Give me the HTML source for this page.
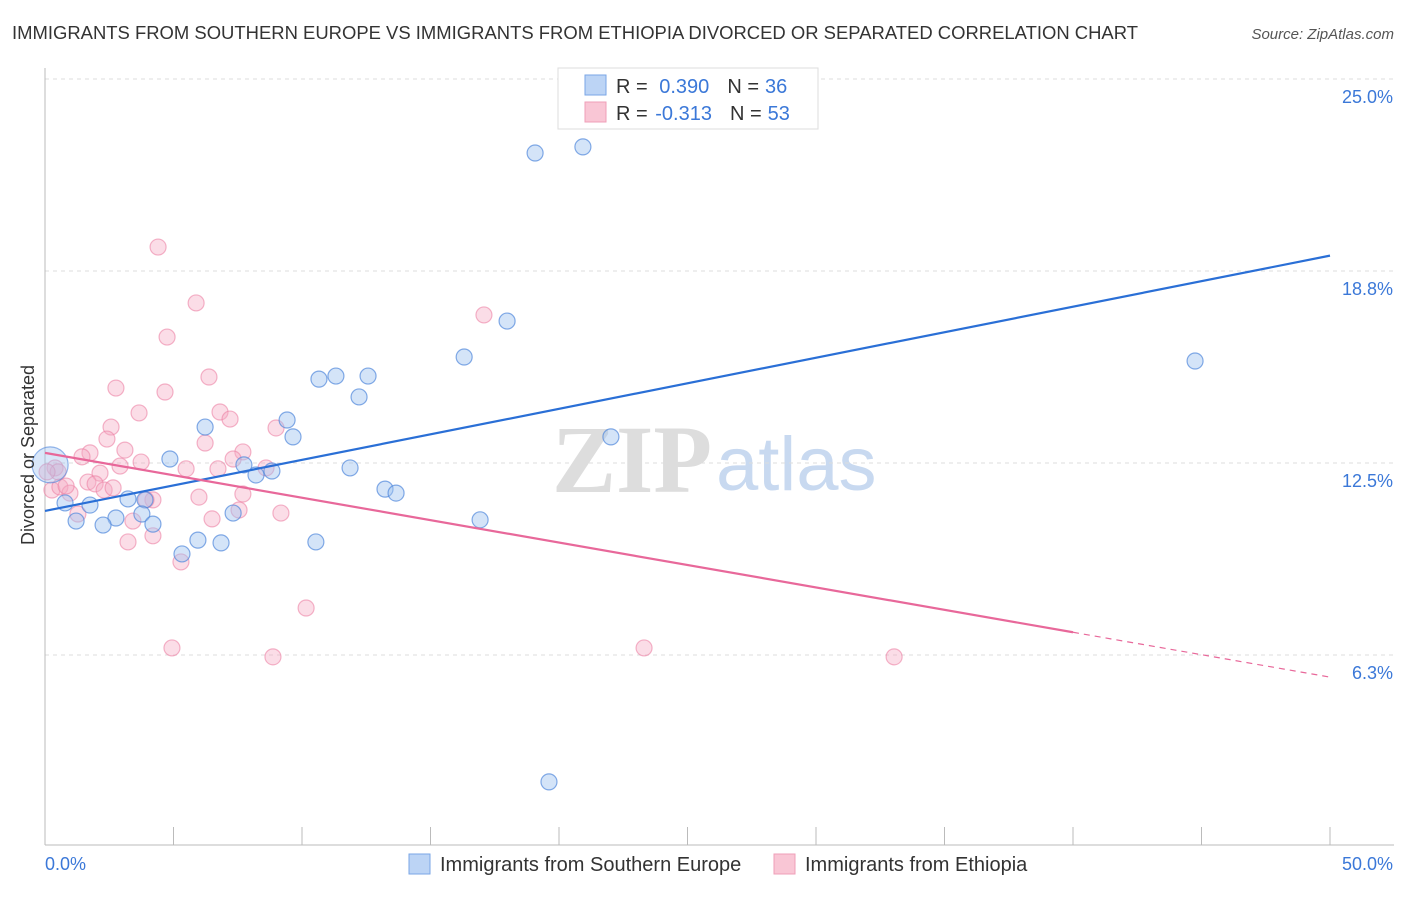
<!DOCTYPE html>
<html><head><meta charset="utf-8"><style>
body{margin:0;background:#fff;width:1406px;height:892px;overflow:hidden;font-family:"Liberation Sans",sans-serif}
</style></head><body>
<svg id="chart" width="1406" height="892" xmlns="http://www.w3.org/2000/svg">
<text x="12" y="39" font-size="18" fill="#333" textLength="1126" lengthAdjust="spacingAndGlyphs">IMMIGRANTS FROM SOUTHERN EUROPE VS IMMIGRANTS FROM ETHIOPIA DIVORCED OR SEPARATED CORRELATION CHART</text>
<text x="1394" y="39" font-size="15" fill="#555" font-style="italic" text-anchor="end">Source: ZipAtlas.com</text>
<g>
<text x="552" y="492" font-size="96" fill="#ddd" font-family="Liberation Serif,serif" font-weight="bold">ZIP</text>
<text x="716" y="490" font-size="76" fill="#c8d9f0">atlas</text>
</g>
<g id="grid"></g>
<g id="axes"></g>
<g id="points"></g>
<g id="trends"></g>
<text transform="translate(34,455) rotate(-90)" font-size="18" fill="#333" text-anchor="middle">Divorced or Separated</text>
<g>
<rect x="558" y="68" width="260" height="61" fill="#fff" stroke="#ddd"/>
<rect x="585" y="75" width="21" height="20" fill="#bcd4f5" stroke="#7aa6e6"/>
<rect x="585" y="102" width="21" height="20" fill="#f9c6d5" stroke="#ef9fb8"/>
<text x="616" y="93" font-size="20" fill="#333">R = <tspan fill="#3b78d8" dx="6">0.390</tspan><tspan dx="18" fill="#333">N =</tspan><tspan fill="#3b78d8" dx="6">36</tspan></text>
<text x="616" y="120" font-size="20" fill="#333">R = <tspan fill="#3b78d8" dx="2">-0.313</tspan><tspan dx="18" fill="#333">N =</tspan><tspan fill="#3b78d8" dx="6">53</tspan></text>
</g>
<g>
<rect x="409" y="854" width="21" height="20" fill="#bcd4f5" stroke="#7aa6e6"/>
<text x="440" y="871" font-size="20" fill="#333">Immigrants from Southern Europe</text>
<rect x="774" y="854" width="21" height="20" fill="#f9c6d5" stroke="#ef9fb8"/>
<text x="805" y="871" font-size="20" fill="#333">Immigrants from Ethiopia</text>
</g>
</svg>
<script>
const yTicks=[25,18.75,12.5,6.25];
const yTickLabels=["25.0%","18.8%","12.5%","6.3%"];
const xTickCount=10;
const blueX=[19.07,20.93,17.98,16.31,44.75,10.66,11.32,12.57,12.22,9.42,9.65,6.23,22.02,4.86,7.74,8.83,8.21,11.87,13.23,13.66,3.23,3.89,1.75,0.78,3.77,2.76,1.21,2.26,4.20,7.32,16.93,5.33,5.95,6.85,10.54,19.61];
const blueY=[22.59,22.79,17.12,15.95,15.82,15.23,15.33,15.33,14.65,13.90,13.35,13.67,13.35,12.63,12.44,12.24,12.11,12.34,11.65,11.52,11.33,11.30,11.13,11.20,10.84,10.71,10.61,10.48,10.51,10.87,10.65,9.54,9.99,9.90,9.93,2.12];
const pinkX=[4.40,5.88,4.75,6.38,17.08,2.76,4.67,3.66,6.81,2.57,7.20,2.41,6.23,1.75,1.44,3.11,7.70,8.99,7.32,3.74,2.92,5.49,6.73,8.60,2.14,0.39,0.27,0.58,1.67,1.95,2.30,0.97,4.20,3.93,5.99,7.70,7.55,9.18,1.28,3.42,6.50,3.23,4.20,5.29,10.16,4.94,8.87,23.31,33.04,0.51,0.82,2.65,0.08];
const pinkY=[19.53,17.71,16.60,15.30,17.32,14.94,14.81,14.13,14.16,13.67,13.93,13.28,13.15,12.83,12.70,12.92,12.86,13.64,12.63,12.53,12.40,12.31,12.31,12.34,12.17,12.34,11.62,11.72,11.88,11.82,11.62,11.52,11.30,11.30,11.39,11.49,10.97,10.87,10.84,10.61,10.68,9.93,10.13,9.28,7.78,6.48,6.19,6.48,6.19,12.21,11.75,11.69,12.21];
const blueTrend=[10.94,19.25];
const pinkTrend=[12.83,5.53];
const pinkSolidEnd=40;

const NS="http://www.w3.org/2000/svg";
const X=v=>45+v/50*1285;
const Y=v=>79+(25-v)*30.72;
function mk(tag,attrs,parent){const e=document.createElementNS(NS,tag);for(const k in attrs)e.setAttribute(k,attrs[k]);document.getElementById(parent).appendChild(e);return e;}

yTicks.forEach((t,i)=>{
 const l=mk('line',{x1:45,x2:1394,y1:Y(t),y2:Y(t),stroke:'#ddd','stroke-dasharray':'4,4'},'grid');
 
 
 const tx=mk('text',{x:1393,y:Y(t)+24,'font-size':18,fill:'#3b78d8','text-anchor':'end'},'grid');
 tx.textContent=yTickLabels[i];
 
 
});
let a=mk('line',{x1:45,x2:45,y1:68,y2:845,stroke:'#bbb'},'axes');


a=mk('line',{x1:45,x2:1394,y1:845,y2:845,stroke:'#bbb'},'axes');


for(let i=0;i<=xTickCount;i++){
 const tk=mk('line',{x1:X(i*5),x2:X(i*5),y1:827,y2:845,stroke:'#bbb'},'axes');
 
 
}
let t=mk('text',{x:45,y:870,'font-size':18,fill:'#3b78d8'},'axes');t.textContent='0.0%';


t=mk('text',{x:1393,y:870,'font-size':18,fill:'#3b78d8','text-anchor':'end'},'axes');t.textContent='50.0%';



pinkX.forEach((v,i)=>{
 const c=mk('circle',{cx:X(v),cy:Y(pinkY[i]),r:8,fill:'rgba(246,170,195,0.4)',stroke:'rgba(236,130,165,0.6)','stroke-width':1.2},'points');
 
 
});
blueX.forEach((v,i)=>{
 const c=mk('circle',{cx:X(v),cy:Y(blueY[i]),r:8,fill:'rgba(160,195,240,0.45)',stroke:'rgba(80,135,220,0.7)','stroke-width':1.2},'points');
 
 
});
const big=mk('circle',{cx:X(0.2),cy:Y(12.44),r:18,fill:'rgba(160,195,240,0.4)',stroke:'rgba(80,135,220,0.6)','stroke-width':1.2},'points');



let ln=mk('line',{x1:X(0),y1:Y(blueTrend[0]),x2:X(50),y2:Y(blueTrend[1]),stroke:'#2a6fd6','stroke-width':2.2},'trends');


const pm=v=>pinkTrend[0]+(pinkTrend[1]-pinkTrend[0])*v/50;
ln=mk('line',{x1:X(0),y1:Y(pm(0)),x2:X(pinkSolidEnd),y2:Y(pm(pinkSolidEnd)),stroke:'#e8689a','stroke-width':2.2},'trends');


ln=mk('line',{x1:X(pinkSolidEnd),y1:Y(pm(pinkSolidEnd)),x2:X(50),y2:Y(pm(50)),stroke:'#e8689a','stroke-width':1.2,'stroke-dasharray':'6,5'},'trends');


</script>
</body></html>
